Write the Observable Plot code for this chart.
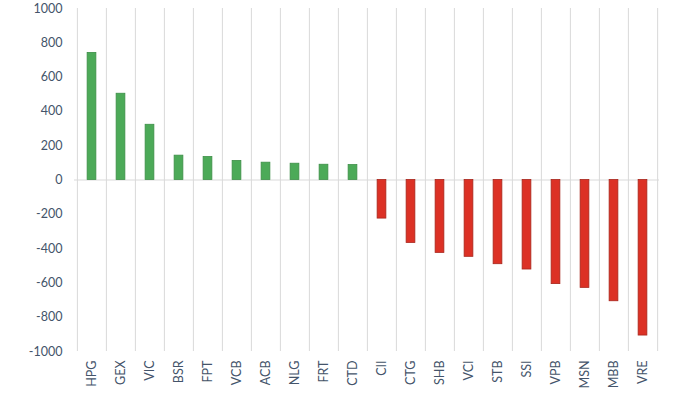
<!DOCTYPE html>
<html>
<head>
<meta charset="utf-8">
<script src="https://cdn.jsdelivr.net/npm/d3@7"></script>
<script src="https://cdn.jsdelivr.net/npm/@observablehq/plot@0.6"></script>
<style>
  html, body { margin: 0; padding: 0; background: #fff; }
  #chart svg { display: block; }
</style>
</head>
<body>
<div id="chart"></div>
<script>
const tickers = ["HPG","GEX","VIC","BSR","FPT","VCB","ACB","NLG","FRT","CTD","CII","CTG","SHB","VCI","STB","SSI","VPB","MSN","MBB","VRE"];
const values  = [741, 503, 322, 142, 134, 111, 101, 95, 89, 87, -225, -367, -425, -448, -491, -522, -607, -629, -707, -907];
const yTicks  = [-1000, -800, -600, -400, -200, 0, 200, 400, 600, 800, 1000];

const data = tickers.map((t, i) => ({ticker: t, value: values[i]}));

const W = 690, H = 405;
const mL = 74, mR = 31, mT = 8, mB = 54;
const step = (W - mL - mR) / tickers.length;
const barW = 9;
const inset = (step - barW) / 2;
const textColor = "#44546a";

const chart = Plot.plot({
  width: W,
  height: H,
  marginLeft: mL,
  marginRight: mR,
  marginTop: mT,
  marginBottom: mB,
  style: {fontFamily: "Lato, 'Open Sans', sans-serif", fontSize: "12.5px", color: textColor, background: "#fff"},
  x: {domain: tickers, padding: 0, label: null, tickSize: 0, tickPadding: 9, tickRotate: -90},
  y: {domain: [-1000, 1000], ticks: yTicks, tickFormat: d => String(d), label: null, tickSize: 0, tickPadding: 12},
  marks: [
    Plot.ruleX(tickers, {x: d => d, y1: -1000, y2: 1000, dx: -step / 2, stroke: "#d9d9d9", strokeWidth: 1}),
    Plot.ruleX([tickers[tickers.length - 1]], {x: d => d, y1: -1000, y2: 1000, dx: step / 2, stroke: "#d9d9d9", strokeWidth: 1}),
    Plot.ruleY([0], {stroke: "#d9d9d9", strokeWidth: 1}),
    Plot.barY(data, {
      x: "ticker", y: "value",
      insetLeft: inset, insetRight: inset,
      fill: d => d.value >= 0 ? "#4caa58" : "#dc3125",
      stroke: d => d.value >= 0 ? "#3d8f48" : "#a8261c",
      strokeWidth: 0.8
    })
  ]
});
document.getElementById("chart").appendChild(chart);
</script>
</body>
</html>
